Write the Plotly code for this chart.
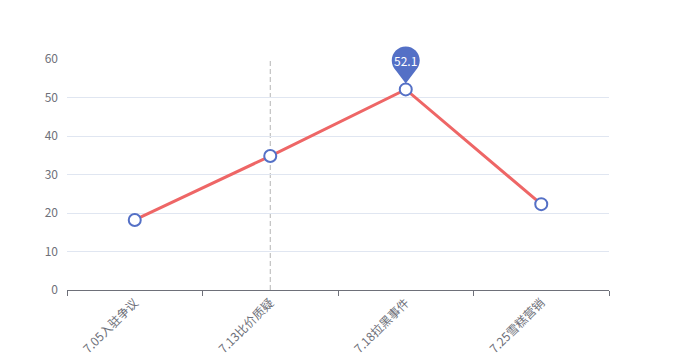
import plotly.graph_objects as go

categories = ["7.05入驻争议", "7.13比价质疑", "7.18拉黑事件", "7.25雪糕营销"]
values = [18.2, 34.8, 52.1, 22.3]
y_ticks = [0, 10, 20, 30, 40, 50, 60]
y_max = 60

max_idx = values.index(max(values))
max_label = f"{max(values):.1f}"

fig = go.Figure()
fig.add_trace(go.Scatter(
    x=categories, y=values, mode="lines+markers",
    line=dict(color="#ee6666", width=3),
    marker=dict(size=12, color="white", line=dict(color="#5470c6", width=2)),
    hoverinfo="x+y", showlegend=False,
))

# axis pointer (dashed vertical line)
fig.add_shape(type="line", xref="x", yref="paper", x0=categories[1], x1=categories[1],
              y0=0, y1=1, line=dict(color="#b4b4b4", width=1, dash="5px,3px"), layer="below")

# pin mark point at max (paper-referenced so it is not clipped)
px_anchor = (max_idx + 0.5) / len(categories)
py_anchor = values[max_idx] / y_max
pin_path = ("M 14,29 C 14,36.73 7.73,43 0,43 C -7.73,43 -14,36.73 -14,29 "
            "C -14,21.27 -7.73,15 0,15 C 7.73,15 14,21.27 14,29 Z "
            "M -11,20.5 L 0,6 L 11,20.5 Z")
fig.add_shape(type="path", xref="paper", yref="paper", xsizemode="pixel", ysizemode="pixel",
              xanchor=px_anchor, yanchor=py_anchor, path=pin_path,
              fillcolor="#5470c6", line=dict(width=0), fillrule="nonzero", layer="above")
fig.add_annotation(x=categories[max_idx], y=values[max_idx], yshift=29, text=max_label,
                   showarrow=False, font=dict(color="white", size=12,
                   family="Noto Sans CJK SC, Noto Sans, sans-serif"))

fig.update_layout(
    width=669, height=352,
    margin=dict(l=59, r=68, t=51, b=70),
    paper_bgcolor="white", plot_bgcolor="white",
    font=dict(family="Noto Sans CJK SC, Noto Sans, sans-serif", size=12, color="#6e7079"),
    xaxis=dict(
        type="category", range=[-0.5, 3.5], tickson="boundaries",
        ticks="outside", ticklen=5, tickcolor="#6e7079",
        showline=True, linecolor="#6e7079", linewidth=1,
        showgrid=False, tickangle=-45, tickfont=dict(size=12, color="#6e7079"),
        fixedrange=True, automargin=False,
    ),
    yaxis=dict(
        range=[0, y_max], tickvals=y_ticks, showgrid=True, gridcolor="#e0e6f1",
        zeroline=False, showline=False, ticks="", ticklabelstandoff=8,
        tickfont=dict(size=12, color="#6e7079"), fixedrange=True, automargin=False,
    ),
)

fig.write_html("out.html")
